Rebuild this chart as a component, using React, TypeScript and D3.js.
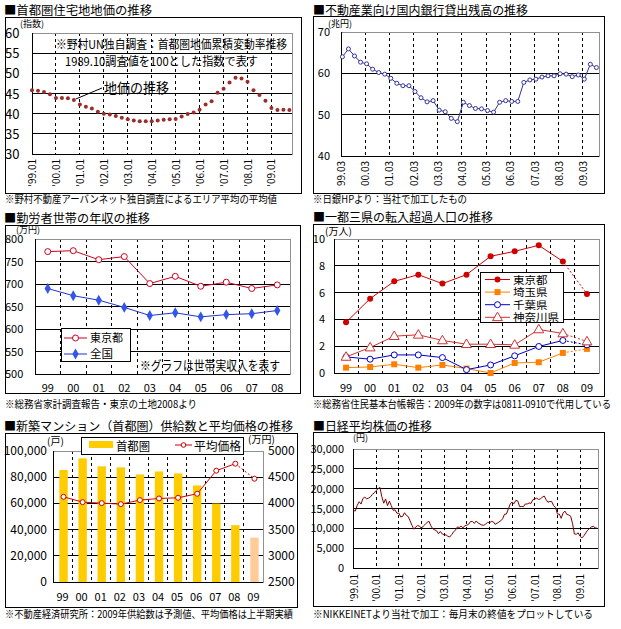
import React, { useEffect, useRef } from 'react';
import * as d3 from 'd3';

const FONT = '"Noto Sans CJK JP", "Noto Sans", sans-serif';

// ---- panel 1: land price index, quarterly from '99.01
const landIndex = [45.8, 45.7, 45.4, 44.8, 43.9, 43.9, 43.8, 43.4, 42.3, 41.7, 41.3, 40.5, 40.0, 39.8, 39.4, 39.0, 38.6, 38.3, 38.1, 38.1, 38.1, 38.3, 38.5, 38.6, 38.7, 39.3, 39.9, 40.3, 41.0, 42.3, 43.1, 45.2, 46.2, 47.7, 48.9, 48.7, 47.9, 45.8, 44.6, 43.2, 41.4, 40.9, 41.0, 40.9];
const landTicks = ["'99.01", "'00.01", "'01.01", "'02.01", "'03.01", "'04.01", "'05.01", "'06.01", "'07.01", "'08.01", "'09.01"];

// ---- panel 2: bank loans to real estate (兆円), quarterly from 99.03
const loans = [64.0, 65.9, 64.2, 62.7, 62.3, 61.0, 60.2, 59.8, 58.8, 57.6, 57.0, 57.0, 55.6, 54.1, 53.1, 53.4, 51.1, 50.7, 49.1, 48.3, 53.0, 52.2, 51.5, 51.4, 51.0, 50.6, 53.0, 53.4, 53.2, 53.2, 57.8, 58.4, 58.6, 59.1, 59.4, 59.4, 59.9, 59.8, 59.2, 59.6, 58.6, 62.2, 61.4];
const loanTicks = ['99.03', '00.03', '01.03', '02.03', '03.03', '04.03', '05.03', '06.03', '07.03', '08.03', '09.03'];

// ---- panel 3: household income (万円)
const incomeYears = ['99', '00', '01', '02', '03', '04', '05', '06', '07', '08'];
const incomeTokyo = [772, 774, 754, 761, 701, 717, 695, 704, 690, 698];
const incomeNation = [690, 674, 664, 648, 630, 636, 627, 632, 634, 641];

// ---- panel 4: net migration (万人)
const migYears = ['99', '00', '01', '02', '03', '04', '05', '06', '07', '08', '09'];
const migTokyo = [3.78, 5.55, 6.84, 7.34, 6.67, 7.34, 8.71, 9.08, 9.53, 8.33, 5.9];
const migSaitama = [0.4, 0.45, 0.65, 0.4, 0.6, 0.33, 0.0, 0.75, 0.8, 1.5, 1.8];
const migChiba = [1.2, 1.03, 1.35, 1.35, 1.15, 0.25, 0.6, 1.28, 1.98, 2.43, 2.1];
const migKanagawa = [1.2, 1.9, 2.75, 2.85, 2.43, 2.15, 2.15, 2.1, 3.25, 2.95, 2.35];

// ---- panel 5: condo supply (戸) and average price (万円)
const condoYears = ['99', '00', '01', '02', '03', '04', '05', '06', '07', '08', '09'];
const condoSupply = [85500, 94400, 88300, 87500, 82100, 84400, 82900, 73700, 59900, 43400, 33900];
const condoPrice = [4126, 4024, 4005, 3986, 4063, 4094, 4107, 4184, 4624, 4758, 4471];

// ---- panel 6: Nikkei month-end close from '99.01
const nikkei = [
  14499, 14368, 15837, 16702, 16112, 17530, 17863, 17437, 17605, 17942, 18558, 18934,
  19540, 19960, 20337, 17974, 16332, 17411, 15727, 16861, 15747, 14539, 14649, 13786,
  13843, 12883, 12999, 13934, 13262, 12969, 11860, 10713, 9774, 10366, 10697, 10543,
  9997, 10587, 11024, 11492, 11764, 10621, 9877, 9619, 9383, 8640, 9215, 8579,
  8339, 8363, 7973, 7831, 8425, 9083, 9563, 10344, 10219, 10560, 10101, 10677,
  10784, 11041, 11715, 11762, 11236, 11858, 11326, 11082, 10824, 10771, 11069, 11489,
  11388, 11741, 11669, 11009, 11277, 11584, 11900, 12414, 13574, 13607, 14872, 16111,
  16650, 16205, 17060, 16907, 15467, 15505, 15457, 16141, 16128, 16399, 16274, 17226,
  17383, 17604, 17288, 17400, 17876, 18138, 17249, 16569, 16786, 16738, 15681, 15308,
  13592, 13603, 12526, 13850, 14339, 13482, 13377, 13073, 11260, 8577, 8512, 8860,
  7994, 7568, 8110, 8828, 9523, 9958, 10357, 10493, 10133, 10035,
];
const nikkeiTicks = ["'99.01", "'00.01", "'01.01", "'02.01", "'03.01", "'04.01", "'05.01", "'06.01", "'07.01", "'08.01", "'09.01"];

type G = d3.Selection<SVGGElement, unknown, null, undefined>;

function text(g: G, x: number, y: number, s: string, size: number, opt: { anchor?: string; len?: number; fill?: string } = {}) {
  const t = g.append('text')
    .attr('x', x).attr('y', y)
    .attr('font-size', size)
    .attr('font-family', FONT)
    .attr('fill', opt.fill || '#000')
    .attr('text-anchor', opt.anchor || 'start')
    .text(s);
  if (opt.len) t.attr('textLength', opt.len).attr('lengthAdjust', 'spacingAndGlyphs');
  return t;
}

function frame(g: G, x: number, y: number, w: number, h: number) {
  g.append('rect').attr('x', x + 0.5).attr('y', y + 0.5).attr('width', w).attr('height', h)
    .attr('fill', '#fff').attr('stroke', '#000');
}

function plotBox(g: G, l: number, r: number, t: number, b: number) {
  g.append('rect').attr('x', l).attr('y', t).attr('width', r - l).attr('height', b - t)
    .attr('fill', 'none').attr('stroke', '#909090').attr('shape-rendering', 'crispEdges');
  g.append('line').attr('x1', l).attr('x2', l).attr('y1', t).attr('y2', b)
    .attr('stroke', '#000').attr('shape-rendering', 'crispEdges');
  g.append('line').attr('x1', l).attr('x2', r).attr('y1', b).attr('y2', b)
    .attr('stroke', '#000').attr('shape-rendering', 'crispEdges');
}

function hLine(g: G, l: number, r: number, y: number) {
  g.append('line').attr('x1', l).attr('x2', r).attr('y1', y).attr('y2', y)
    .attr('stroke', '#000').attr('shape-rendering', 'crispEdges');
}

function vDash(g: G, x: number, t: number, b: number) {
  g.append('line').attr('x1', x).attr('x2', x).attr('y1', t).attr('y2', b)
    .attr('stroke', '#000').attr('stroke-dasharray', '3,3').attr('shape-rendering', 'crispEdges');
}

function rotLabel(g: G, x: number, y: number, s: string) {
  g.append('text')
    .attr('transform', `translate(${x + 4},${y}) rotate(-90)`)
    .attr('font-size', 10).attr('font-family', FONT)
    .attr('text-anchor', 'end')
    .text(s);
}

export default function App() {
  const svgRef = useRef<SVGSVGElement>(null);

  useEffect(() => {
    if (!svgRef.current) return;
    const svg = d3.select(svgRef.current);
    svg.selectAll('*').remove();
    const root = svg.append('g') as unknown as G;
    root.append('rect').attr('width', 621).attr('height', 629).attr('fill', '#fff');

    // ================= Panel 1 =================
    {
      const g = root.append('g') as unknown as G;
      frame(g, 5, 17, 296, 176);
      const x = d3.scaleLinear().domain([0, 130.3]).range([32, 292]);
      const y = d3.scaleLinear().domain([30, 60]).range([154, 33]);
      [35, 40, 45, 50, 55].forEach(v => hLine(g, 32, 292, y(v)));
      landTicks.forEach((_, k) => { if (k > 0) vDash(g, x(k * 12), 33, 154); });
      plotBox(g, 32, 292, 33, 154);
      d3.range(30, 61, 5).forEach(v => text(g, 5, y(v) + 5, String(v), 13));
      landTicks.forEach((s, k) => rotLabel(g, x(k * 12), 159, s));
      text(g, 20, 27, '(指数)', 9);

      text(g, 56, 49, '※野村UN独自調査：首都圏地価累積変動率推移', 12, { len: 231 });
      text(g, 65, 66, '1989.10調査値を100とした指数で表す', 12, { len: 193 });
      // leader to the 8th dot
      g.append('line')
        .attr('x1', x(7 * 3) + 2).attr('y1', y(landIndex[7]) - 1)
        .attr('x2', 102).attr('y2', 88)
        .attr('stroke', '#000');
      text(g, 104, 93, '地価の推移', 14, { len: 65 });

      g.selectAll('circle.land').data(landIndex).join('circle')
        .attr('class', 'land')
        .attr('cx', (_, i) => x(i * 3)).attr('cy', d => y(d))
        .attr('r', 2).attr('fill', '#9b2d2d');

      text(g, 4, 15, '■首都圏住宅地地価の推移', 12, { len: 148 });
      text(g, 5, 203, '※野村不動産アーバンネット独自調査によるエリア平均の平均値', 10.5, { len: 272 });
    }

    // ================= Panel 2 =================
    {
      const g = root.append('g') as unknown as G;
      frame(g, 313, 16, 291, 177);
      const x = d3.scaleLinear().domain([0, 128]).range([341, 599]);
      const y = d3.scaleLinear().domain([40, 70]).range([156, 32]);
      [50, 60].forEach(v => hLine(g, 341, 599, y(v)));
      loanTicks.forEach((_, k) => { if (k > 0) vDash(g, x(k * 12), 32, 156); });
      plotBox(g, 341, 599, 32, 156);
      [40, 50, 60, 70].forEach(v => text(g, 330, y(v) + 4, String(v), 11, { anchor: 'end' }));
      loanTicks.forEach((s, k) => rotLabel(g, x(k * 12), 161, s));
      text(g, 328, 27, '(兆円)', 9);

      const line = d3.line<number>().x((_, i) => x(i * 3 + 0.7)).y(d => y(d));
      g.append('path').datum(loans).attr('d', line).attr('fill', 'none').attr('stroke', '#333399').attr('stroke-width', 1);
      g.selectAll('circle.loan').data(loans).join('circle')
        .attr('class', 'loan')
        .attr('cx', (_, i) => x(i * 3 + 0.7)).attr('cy', d => y(d))
        .attr('r', 2).attr('fill', '#fff').attr('stroke', '#333399');

      text(g, 313, 15, '■不動産業向け国内銀行貸出残高の推移', 12, { len: 215 });
      text(g, 313, 203, '※日銀HPより：当社で加工したもの', 10.5, { len: 154 });
    }

    // ================= Panel 3 =================
    {
      const g = root.append('g') as unknown as G;
      frame(g, 5, 225, 295, 168);
      const x = d3.scaleBand().domain(incomeYears).range([35, 290]);
      const y = d3.scaleLinear().domain([500, 800]).range([374, 239]);
      const cx = (i: number) => (x(incomeYears[i]) as number) + x.bandwidth() / 2;
      [550, 600, 650, 700, 750].forEach(v => hLine(g, 35, 290, y(v)));
      incomeYears.forEach((c, i) => { if (i > 0) vDash(g, x(c) as number, 239, 374); });
      plotBox(g, 35, 290, 239, 374);
      d3.range(500, 801, 50).forEach(v => text(g, 5, y(v) + 4, String(v), 11));
      incomeYears.forEach((c, i) => text(g, cx(i), 392, c, 11, { anchor: 'middle' }));
      text(g, 16, 233, '(万円)', 9);

      const line = d3.line<number>().x((_, i) => cx(i)).y(d => y(d));
      g.append('path').datum(incomeTokyo).attr('d', line).attr('fill', 'none').attr('stroke', '#cc0020');
      g.append('path').datum(incomeNation).attr('d', line).attr('fill', 'none').attr('stroke', '#2233cc');
      g.selectAll('circle.inc').data(incomeTokyo).join('circle')
        .attr('class', 'inc')
        .attr('cx', (_, i) => cx(i)).attr('cy', d => y(d))
        .attr('r', 3).attr('fill', '#fff').attr('stroke', '#cc0020');
      const diamond = d3.symbol().type(d3.symbolDiamond).size(34);
      g.selectAll('path.nat').data(incomeNation).join('path')
        .attr('class', 'nat')
        .attr('transform', (d, i) => `translate(${cx(i)},${y(d)})`)
        .attr('d', diamond).attr('fill', '#3355ee');

      // legend
      g.append('rect').attr('x', 61.5).attr('y', 328.5).attr('width', 69).attr('height', 33)
        .attr('fill', '#fff').attr('stroke', '#000');
      g.append('line').attr('x1', 64).attr('x2', 87).attr('y1', 338).attr('y2', 338).attr('stroke', '#cc0020');
      g.append('circle').attr('cx', 75.5).attr('cy', 338).attr('r', 3).attr('fill', '#fff').attr('stroke', '#cc0020');
      text(g, 90, 342, '東京都', 11.5, { len: 33 });
      g.append('line').attr('x1', 64).attr('x2', 87).attr('y1', 354).attr('y2', 354).attr('stroke', '#2233cc');
      g.append('path').attr('transform', 'translate(75.5,354)').attr('d', diamond).attr('fill', '#3355ee');
      text(g, 90, 358, '全国', 11.5, { len: 23 });

      text(g, 140, 370, '※グラフは世帯実収入を表す', 13, { len: 140 });

      text(g, 4, 223, '■勤労者世帯の年収の推移', 12, { len: 146 });
      text(g, 5, 408, '※総務省家計調査報告・東京の土地2008より', 10.5, { len: 192 });
    }

    // ================= Panel 4 =================
    {
      const g = root.append('g') as unknown as G;
      frame(g, 313, 224, 291, 172);
      const x = d3.scaleBand().domain(migYears).range([334, 599]);
      const y = d3.scaleLinear().domain([0, 10]).range([373, 239]);
      const cx = (i: number) => (x(migYears[i]) as number) + x.bandwidth() / 2;
      [2, 4, 6, 8].forEach(v => hLine(g, 334, 599, y(v)));
      migYears.forEach((c, i) => { if (i > 0) vDash(g, x(c) as number, 239, 373); });
      plotBox(g, 334, 599, 239, 373);
      d3.range(0, 11, 2).forEach(v => text(g, 325, y(v) + 4, String(v), 11, { anchor: 'end' }));
      migYears.forEach((c, i) => text(g, cx(i), 392, c, 11, { anchor: 'middle' }));
      text(g, 325, 235, '(万人)', 10);

      const series = [
        { name: '東京都', data: migTokyo, color: '#d00000', marker: 'dot' },
        { name: '埼玉県', data: migSaitama, color: '#ff8000', marker: 'square' },
        { name: '千葉県', data: migChiba, color: '#0000cc', marker: 'ring' },
        { name: '神奈川県', data: migKanagawa, color: '#cc3333', marker: 'tri' },
      ];
      const tri = d3.symbol().type(d3.symbolTriangle).size(42);
      const marker = (sel: G, kind: string, color: string, px: number, py: number) => {
        if (kind === 'dot') sel.append('circle').attr('cx', px).attr('cy', py).attr('r', 3).attr('fill', color);
        else if (kind === 'square') sel.append('rect').attr('x', px - 3).attr('y', py - 3).attr('width', 6).attr('height', 6).attr('fill', color);
        else if (kind === 'ring') sel.append('circle').attr('cx', px).attr('cy', py).attr('r', 3).attr('fill', '#fff').attr('stroke', color);
        else sel.append('path').attr('transform', `translate(${px},${py + 0.5})`).attr('d', tri).attr('fill', '#fff').attr('stroke', color);
      };
      series.forEach(s => {
        const pts = s.data.map((v, i) => [cx(i), y(v)] as [number, number]);
        const line = d3.line();
        g.append('path').attr('d', line(pts.slice(0, 10))).attr('fill', 'none').attr('stroke', s.color);
        g.append('path').attr('d', line(pts.slice(9))).attr('fill', 'none').attr('stroke', s.color).attr('stroke-dasharray', '2,2');
      });
      series.forEach(s => s.data.forEach((v, i) => marker(g, s.marker, s.color, cx(i), y(v))));

      // legend
      g.append('rect').attr('x', 480.5).attr('y', 272.5).attr('width', 83).attr('height', 50)
        .attr('fill', '#fff').attr('stroke', '#000');
      series.forEach((s, k) => {
        const ly = 279.5 + k * 12.6;
        g.append('line').attr('x1', 485).attr('x2', 510).attr('y1', ly).attr('y2', ly).attr('stroke', s.color);
        marker(g, s.marker, s.color, 497.5, ly);
        text(g, 513, ly + 4, s.name, 10.5, { len: s.name.length * 11.5 });
      });

      text(g, 313, 222, '■一都三県の転入超過人口の推移', 12, { len: 180 });
      text(g, 313, 408, '※総務省住民基本台帳報告：2009年の数字は0811-0910で代用している', 10.5, { len: 298 });
    }

    // ================= Panel 5 =================
    {
      const g = root.append('g') as unknown as G;
      frame(g, 5, 433, 292, 174);
      const x = d3.scaleBand().domain(condoYears).range([53, 263]);
      const yL = d3.scaleLinear().domain([0, 100000]).range([582, 451]);
      const yR = d3.scaleLinear().domain([2500, 5000]).range([582, 451]);
      const cx = (i: number) => (x(condoYears[i]) as number) + x.bandwidth() / 2 + 1;
      [20000, 40000, 60000, 80000].forEach(v => hLine(g, 53, 263, yL(v)));
      condoYears.forEach((c, i) => { if (i > 0) vDash(g, x(c) as number, 451, 582); });
      const bw = 8.4;
      g.selectAll('rect.bar').data(condoSupply).join('rect')
        .attr('class', 'bar')
        .attr('x', (_, i) => cx(i) - bw / 2).attr('width', bw)
        .attr('y', d => yL(d)).attr('height', d => yL(0) - yL(d))
        .attr('fill', (_, i) => (i === condoSupply.length - 1 ? '#ffcc99' : '#ffcc00'));
      plotBox(g, 53, 263, 451, 582);
      d3.range(0, 100001, 20000).forEach(v => text(g, 47, yL(v) + 4, d3.format(',')(v), 12, { anchor: 'end' }));
      d3.range(2500, 5001, 500).forEach(v => text(g, 268, yR(v) + 4, String(v), 12));
      condoYears.forEach((c, i) => text(g, cx(i) - 1, 601, c, 11, { anchor: 'middle' }));
      text(g, 47, 445, '(戸)', 10);
      text(g, 248, 443, '(万円)', 10);

      const pts = condoPrice.map((v, i) => [cx(i), yR(v)] as [number, number]);
      const line = d3.line();
      g.append('path').attr('d', line(pts.slice(0, 10))).attr('fill', 'none').attr('stroke', '#cc0000');
      g.append('path').attr('d', line(pts.slice(9))).attr('fill', 'none').attr('stroke', '#cc0000').attr('stroke-dasharray', '2,2');
      g.selectAll('circle.price').data(pts).join('circle')
        .attr('class', 'price')
        .attr('cx', d => d[0]).attr('cy', d => d[1])
        .attr('r', 2.5).attr('fill', '#fff').attr('stroke', '#cc0000');

      // legend
      g.append('rect').attr('x', 81.5).attr('y', 437.5).attr('width', 162).attr('height', 17)
        .attr('fill', '#fff').attr('stroke', '#000');
      g.append('rect').attr('x', 89).attr('y', 441).attr('width', 24).attr('height', 7).attr('fill', '#ffcc00');
      text(g, 116, 451, '首都圏', 12, { len: 34 });
      g.append('line').attr('x1', 175).attr('x2', 192).attr('y1', 445).attr('y2', 445).attr('stroke', '#cc0000');
      g.append('circle').attr('cx', 183.5).attr('cy', 445).attr('r', 2.3).attr('fill', '#fff').attr('stroke', '#cc0000');
      text(g, 194, 451, '平均価格', 12, { len: 47 });

      text(g, 4, 431, '■新築マンション（首都圏）供給数と平均価格の推移', 12, { len: 289 });
      text(g, 5, 618, '※不動産経済研究所：2009年供給数は予測値、平均価格は上半期実績', 10.5, { len: 288 });
    }

    // ================= Panel 6 =================
    {
      const g = root.append('g') as unknown as G;
      frame(g, 313, 432, 291, 174);
      const x = d3.scaleLinear().domain([0, 129.5]).range([353.5, 598]);
      const y = d3.scaleLinear().domain([0, 30000]).range([568, 449]);
      [5000, 10000, 15000, 20000, 25000].forEach(v => hLine(g, 353, 598, y(v)));
      nikkeiTicks.forEach((_, k) => { if (k > 0) vDash(g, x(k * 12), 449, 568); });
      plotBox(g, 353, 598, 449, 568);
      d3.range(0, 30001, 5000).forEach(v => text(g, 344, y(v) + 4, d3.format(',')(v), 11, { anchor: 'end' }));
      nikkeiTicks.forEach((s, k) => rotLabel(g, x(k * 12), 574, s));
      text(g, 353, 441, '(円)', 9);

      const line = d3.line<number>().x((_, i) => x(i)).y(d => y(d));
      g.append('path').datum(nikkei).attr('d', line).attr('fill', 'none').attr('stroke', '#800000').attr('stroke-width', 1);

      text(g, 313, 431, '■日経平均株価の推移', 12, { len: 119 });
      text(g, 313, 618, '※NIKKEINETより当社で加工：毎月末の終値をプロットしている', 10.5, { len: 280 });
    }
  }, []);

  return (
    <div style={{ position: 'absolute', left: 0, top: 0 }}>
      <svg ref={svgRef} width={621} height={629} style={{ display: 'block' }} />
    </div>
  );
}
